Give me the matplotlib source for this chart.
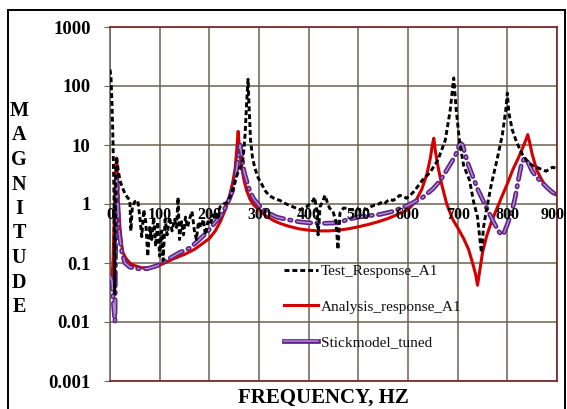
import matplotlib.pyplot as plt
import matplotlib.patheffects as pe
from matplotlib.lines import Line2D
from matplotlib.patches import Rectangle

# frequency response data (Hz, magnitude)
test_f = [0, 2, 4, 6, 8, 9.5, 11, 13, 16, 20, 25, 30, 35, 40, 42, 45, 50, 56, 60, 64,
          68, 72, 76, 80, 84, 88, 92, 96, 100, 104, 107, 111, 115, 120, 125, 130, 134,
          137, 140, 144, 148, 152, 156, 160, 165, 170, 174, 178, 183, 188, 192, 197,
          202, 207, 212, 217, 222, 228, 235, 241, 246, 252, 258, 264, 268, 272, 275,
          278, 280, 283, 287, 292, 298, 305, 312, 320, 330, 342, 355, 368, 382, 390,
          396, 402, 409, 412, 416, 419, 423, 428, 433, 437, 442, 449, 455, 459, 463,
          470, 477, 483, 489, 496, 503, 510, 517, 525, 532, 537, 545, 552, 557, 563,
          570, 577, 583, 590, 597, 604, 611, 620, 630, 644, 660, 675, 685, 692, 697,
          704, 712, 724, 732, 740, 746, 748, 752, 758, 768, 779, 790, 797, 800, 803,
          810, 819, 830, 839, 850, 865, 878, 891, 900]
test_mag = [190, 140, 50, 12, 1.5, 0.03, 0.8, 6.3, 4, 2.5, 1.9, 1.5, 1.3, 1.15, 0.35,
            0.9, 1.1, 1.15, 0.6, 0.28, 0.8, 0.5, 0.13, 0.4, 0.25, 0.6, 0.19, 0.5, 0.13,
            0.35, 0.11, 0.55, 0.3, 0.6, 0.35, 0.55, 0.4, 1.3, 0.25, 0.5, 0.3, 0.6, 0.4,
            0.55, 0.75, 0.35, 0.25, 0.5, 0.4, 0.55, 0.3, 0.5, 0.45, 0.65, 0.55, 0.7,
            0.9, 1.0, 1.05, 1.3, 1.6, 2.5, 3.5, 4.5, 6, 15, 50, 130, 45, 12, 6, 4, 2.8,
            2.2, 1.7, 1.4, 1.25, 1.15, 1.0, 0.9, 0.8, 0.85, 0.9, 1.0, 1.15, 1.3, 0.8,
            0.3, 0.9, 1.1, 1.4, 1.1, 0.85, 0.75, 0.5, 0.17, 0.7, 0.85, 0.85, 0.8, 0.8,
            0.85, 0.8, 0.85, 0.8, 0.9, 0.95, 0.95, 1.05, 1.0, 1.1, 1.2, 1.15, 1.25, 1.4,
            1.35, 1.25, 1.4, 1.6, 2.0, 2.6, 3.4, 5.5, 12, 39, 137, 40, 11, 4.5, 2.5,
            1.1, 0.6, 0.2, 0.15, 0.4, 0.8, 2.2, 5.5, 15, 40, 76, 35, 18, 11, 7, 5.5,
            4.5, 4.0, 3.6, 4.2, 4.0]

analysis_f = [0, 3, 6, 8, 10, 12, 13.5, 15, 17, 20, 23, 26, 32, 40, 50, 64, 80, 95,
              110, 130, 150, 170, 185, 200, 212, 222, 232, 240, 247, 252, 255, 258,
              261, 265, 270, 275, 282, 290, 300, 315, 330, 345, 360, 380, 400, 420,
              440, 460, 480, 500, 520, 540, 560, 580, 600, 615, 628, 638, 645, 649,
              652, 655, 660, 667, 678, 690, 702, 712, 722, 730, 736, 740, 744, 750,
              758, 768, 778, 790, 800, 811, 822, 831, 837, 841, 845, 850, 859, 869,
              879, 889, 900]
analysis_mag = [0.06, 0.05, 0.1, 0.4, 1.5, 4, 6, 3, 1, 0.4, 0.22, 0.15, 0.12, 0.1,
                0.09, 0.083, 0.083, 0.088, 0.1, 0.12, 0.14, 0.17, 0.21, 0.26, 0.35,
                0.5, 0.8, 1.3, 2.3, 4, 8, 17, 8, 4.2, 2.5, 1.7, 1.2, 0.95, 0.8, 0.62,
                0.52, 0.46, 0.42, 0.38, 0.36, 0.35, 0.35, 0.36, 0.38, 0.41, 0.45, 0.5,
                0.57, 0.67, 0.8, 1.1, 1.8, 3.2, 6, 10, 13, 8, 4.5, 2.3, 1.0, 0.55,
                0.37, 0.26, 0.17, 0.1, 0.065, 0.042, 0.07, 0.15, 0.28, 0.5, 0.8, 1.4,
                2.2, 3.8, 6, 9, 12, 15, 11, 7, 3.8, 2.6, 1.9, 1.6, 1.4]

stick_f = [0, 4, 7, 10, 11.5, 13, 14.5, 16, 19, 24, 30, 40, 55, 75, 95, 120, 140, 161,
           180, 195, 211, 227, 240, 247, 253, 258, 262, 266, 270, 275, 282, 290, 305,
           320, 335, 355, 380, 400, 430, 460, 480, 500, 520, 545, 570, 600, 630, 650,
           665, 680, 695, 705, 710, 715, 722, 730, 740, 750, 760, 772, 782, 788, 793,
           800, 808, 815, 822, 829, 835, 842, 850, 860, 870, 880, 890, 900]
stick_mag = [0.06, 0.05, 0.02, 0.01, 0.3, 3, 2, 0.8, 0.3, 0.15, 0.1, 0.085, 0.08,
             0.08, 0.09, 0.12, 0.15, 0.18, 0.25, 0.33, 0.48, 0.7, 1.2, 1.7, 3, 6, 10,
             6, 3.5, 2.5, 1.6, 1.2, 0.85, 0.7, 0.6, 0.55, 0.5, 0.48, 0.47, 0.48, 0.55,
             0.6, 0.63, 0.67, 0.75, 0.95, 1.3, 1.8, 2.5, 4, 6.5, 10.8, 10, 7, 4.5, 3,
             1.8, 1.2, 0.8, 0.5, 0.35, 0.3, 0.32, 0.45, 0.7, 1.2, 2.5, 5, 6, 5, 3.6,
             2.8, 2.3, 1.9, 1.6, 1.4]

x_ticks = [0, 100, 200, 300, 400, 500, 600, 700, 800, 900]
y_ticks = [0.001, 0.01, 0.1, 1, 10, 100, 1000]
y_labels = ["0.001", "0.01", "0.1", "1", "10", "100", "1000"]

serif = "Liberation Serif"
grid_col = "#6b6352"
frame_red = "#7a1f1f"
stick_fx = [pe.Stroke(linewidth=3.4, foreground="#5e2387"), pe.Normal()]

fig = plt.figure(figsize=(5.67, 4.09), dpi=100)
ax = fig.add_axes([110 / 567, 28 / 409, 447 / 567, 354 / 409])

ax.plot(test_f, test_mag, color="black", lw=2.1, dashes=(1.7, 1.0), zorder=4)
ax.plot(analysis_f, analysis_mag, color="#d40000", lw=2.2, zorder=2)
ax.plot(stick_f, stick_mag, color="#b58bd2", lw=1.1, dashes=(9, 4, 1, 4),
        dash_capstyle="round", path_effects=stick_fx, zorder=3)

ax.set_yscale("log")
ax.set_xlim(0, 900)
ax.set_ylim(1e-3, 1e3)
ax.set_yticks(y_ticks)
ax.set_yticklabels(y_labels, fontfamily=serif, fontweight="bold", fontsize=13.5)
ax.minorticks_off()
ax.tick_params(axis="y", direction="out", length=4, color=grid_col, pad=10)
ax.set_xticks(x_ticks)
ax.tick_params(axis="x", length=0, labelbottom=False)
ax.grid(True, color=grid_col, lw=1.1)

for f in x_ticks:
    dx = -3 if f == 900 else 0
    ax.annotate(str(f), xy=(f, 1), xytext=(dx, -2), textcoords="offset points",
                ha="center", va="top", fontfamily=serif, fontweight="bold",
                fontsize=11.5, zorder=5)

for side in ["top", "bottom", "right"]:
    ax.spines[side].set_color(frame_red)
    ax.spines[side].set_linewidth(1.2)
ax.spines["left"].set_color(grid_col)
ax.spines["left"].set_linewidth(1.1)

# legend handles: the stick model shows as a solid outlined stroke
handles = [
    Line2D([], [], color="black", lw=2.1, dashes=(1.7, 1.0)),
    Line2D([], [], color="#d40000", lw=2.2),
    Line2D([], [], color="#b58bd2", lw=1.1, path_effects=stick_fx),
]
names = ["Test_Response_A1", "Analysis_response_A1", "Stickmodel_tuned"]
leg = ax.legend(handles, names, loc="upper left", bbox_to_anchor=(0.39, 0.33),
                frameon=False, prop={"family": serif, "size": 11}, handlelength=2.2,
                handletextpad=0.2, labelspacing=1.45, borderpad=0, borderaxespad=0)
for txt in leg.get_texts():
    txt.set_color("#111111")

fig.text(19 / 567, 1 - 209 / 409, "\n".join("MAGNITUDE"), ha="center", va="center",
         fontfamily=serif, fontweight="bold", fontsize=14.5, linespacing=1.3)
fig.text(323 / 567, 1 - 398 / 409, "FREQUENCY, HZ", ha="center", va="center",
         fontfamily=serif, fontweight="bold", fontsize=15)

fig.patches.append(Rectangle((8 / 567, -0.02), 557 / 567, 1 - 10 / 409 + 0.02,
                             transform=fig.transFigure, fill=False,
                             edgecolor="black", lw=1.4))

fig.savefig("out.png", dpi=100)
